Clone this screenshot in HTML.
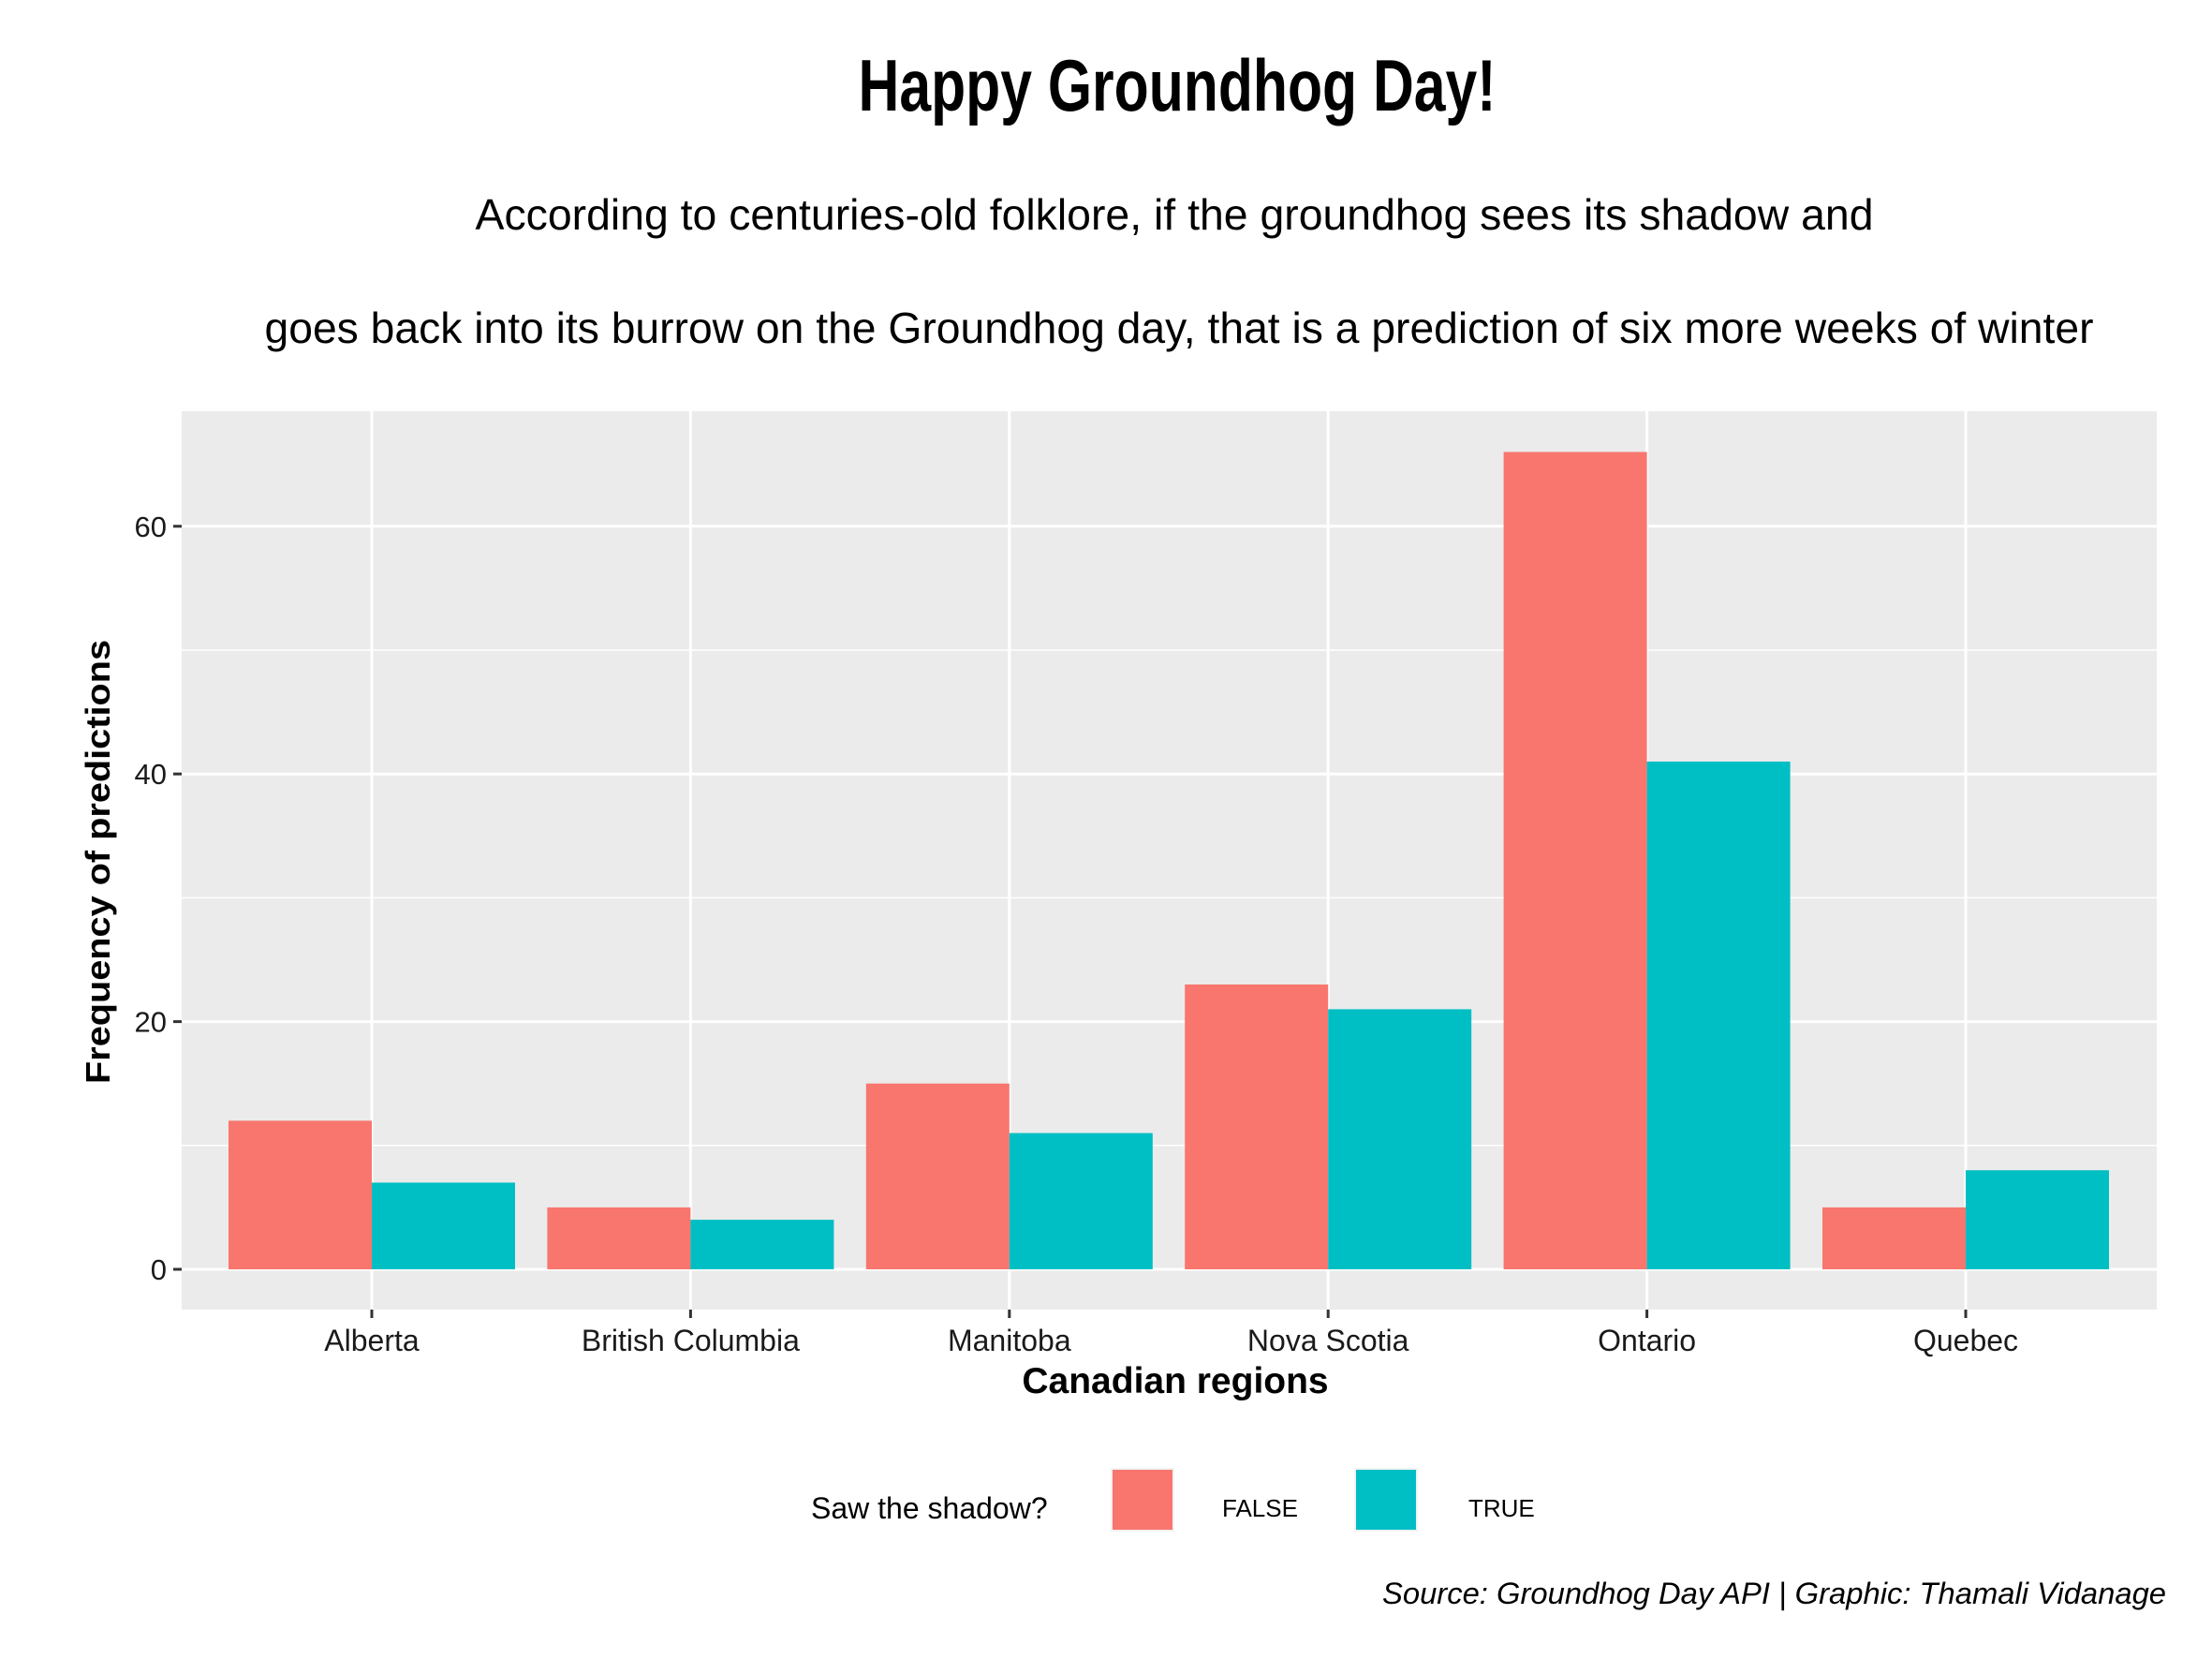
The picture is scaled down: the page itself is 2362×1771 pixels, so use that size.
<!DOCTYPE html>
<html><head><meta charset="utf-8"><style>
html,body{margin:0;padding:0;background:#fff;}
svg{display:block;font-family:"Liberation Sans",sans-serif;}
</style></head><body>
<svg id="chart" width="2362" height="1771" viewBox="0 0 2362 1771" xmlns="http://www.w3.org/2000/svg">
<rect width="2362" height="1771" fill="#fff"/>
<text x="1257" y="118" text-anchor="middle" font-size="78" font-weight="bold" textLength="681" lengthAdjust="spacingAndGlyphs">Happy Groundhog Day!</text>
<text x="1254" y="245" text-anchor="middle" font-size="46" textLength="1493" lengthAdjust="spacingAndGlyphs">According to centuries-old folklore, if the groundhog sees its shadow and</text>
<text x="1259" y="366" text-anchor="middle" font-size="46" textLength="1953" lengthAdjust="spacingAndGlyphs">goes back into its burrow on the Groundhog day, that is a prediction of six more weeks of winter</text>
<rect x="194" y="439" width="2109" height="959" fill="#ebebeb"/>
<g id="grid"></g>
<g id="bars"></g>
<g id="axes"></g>
<text x="1255" y="1487" text-anchor="middle" font-size="39" font-weight="bold">Canadian regions</text>
<text transform="translate(117,920) rotate(-90)" text-anchor="middle" font-size="36" font-weight="bold" textLength="474" lengthAdjust="spacingAndGlyphs">Frequency of predictions</text>
<text x="866" y="1621" font-size="32">Saw the shadow?</text>
<rect x="1187" y="1568" width="66" height="66" fill="#f8766d" stroke="#f2f2f2" stroke-width="2"/>
<text x="1305" y="1619" font-size="26">FALSE</text>
<rect x="1447" y="1568" width="66" height="66" fill="#00bfc4" stroke="#f2f2f2" stroke-width="2"/>
<text x="1568" y="1619" font-size="26">TRUE</text>
<text x="2313" y="1712" text-anchor="end" font-size="32" font-style="italic" textLength="837" lengthAdjust="spacingAndGlyphs">Source: Groundhog Day API | Graphic: Thamali Vidanage</text>
</svg>
<script>
const categories = ["Alberta","British Columbia","Manitoba","Nova Scotia","Ontario","Quebec"];
const falseValues = [12,5,15,23,66,5];
const trueValues = [7,4,11,21,41,8];
const yTicks = [0,20,40,60];
const yMinor = [10,30,50];

const NS="http://www.w3.org/2000/svg";
const y0px=1355, pxPerUnit=13.22;
function yScale(v){return y0px - v*pxPerUnit;}
const xFirst=397, xStep=340.4;
function xScale(i){return xFirst + i*xStep;}
const barW=153;
function mk(tag,attrs,parent){const e=document.createElementNS(NS,tag);for(const k in attrs)e.setAttribute(k,attrs[k]);parent.appendChild(e);return e;}
const grid=document.getElementById('grid'), bars=document.getElementById('bars'), axes=document.getElementById('axes');
yMinor.forEach(v=>{const l=mk('line',{x1:194,x2:2303,y1:yScale(v),y2:yScale(v),stroke:'#fff','stroke-width':1.5},grid);

});
yTicks.forEach(v=>{const l=mk('line',{x1:194,x2:2303,y1:yScale(v),y2:yScale(v),stroke:'#fff','stroke-width':3},grid);


const t=mk('line',{x1:185,x2:194,y1:yScale(v),y2:yScale(v),stroke:'#333','stroke-width':3},axes);


const tx=mk('text',{x:178,y:yScale(v)+11,'text-anchor':'end','font-size':31,fill:'#1a1a1a'},axes);tx.textContent=v;

});
categories.forEach((c,i)=>{const x=xScale(i);
const g=mk('line',{x1:x,x2:x,y1:439,y2:1398,stroke:'#fff','stroke-width':3},grid);


const bf=mk('rect',{x:x-barW,y:yScale(falseValues[i]),width:barW,height:yScale(0)-yScale(falseValues[i]),fill:'#f8766d'},bars);


const bt=mk('rect',{x:x,y:yScale(trueValues[i]),width:barW,height:yScale(0)-yScale(trueValues[i]),fill:'#00bfc4'},bars);


const t=mk('line',{x1:x,x2:x,y1:1398,y2:1407,stroke:'#333','stroke-width':3},axes);


const tx=mk('text',{x:x,y:1442,'text-anchor':'middle','font-size':32,fill:'#1a1a1a'},axes);tx.textContent=c;

});
</script>
</body></html>
